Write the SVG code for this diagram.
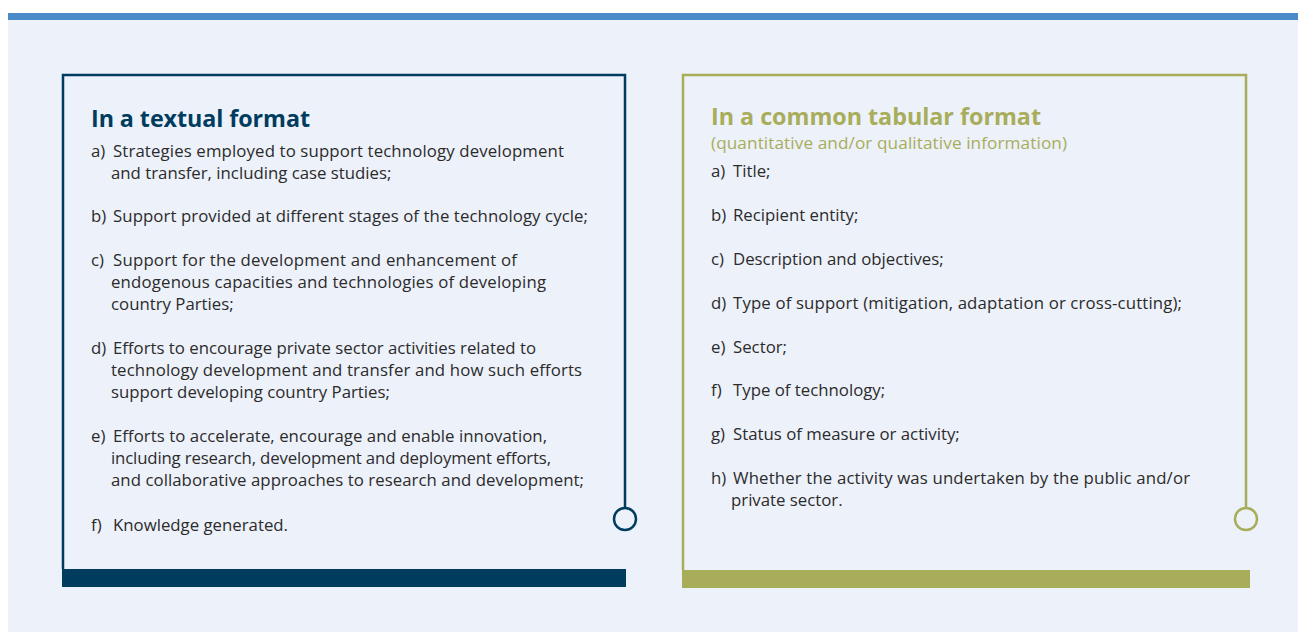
<svg xmlns="http://www.w3.org/2000/svg" width="1298" height="632" viewBox="0 0 1298 632">
<style>
.t{font-family:"Open Sans","Noto Sans",sans-serif;font-size:16.8px;fill:#2b2b2b;}
.h{font-family:"Open Sans","Noto Sans",sans-serif;font-size:23.3px;font-weight:bold;}
.s{font-family:"Open Sans","Noto Sans",sans-serif;font-size:17.2px;}
.navy{fill:#003c5e;}
.olive{fill:#a8ad5a;}
</style>
<rect x="0" y="0" width="1298" height="632" fill="#ffffff"/>
<rect x="8" y="20" width="1290" height="612" fill="#edf1fa"/>
<rect x="8" y="13" width="1290" height="7" fill="#4a8ac8"/>
<g id="textual">
<path d="M63 569 V75 H625 V508" fill="none" stroke="#003c5e" stroke-width="2.5"/>
<circle cx="625" cy="519" r="11" fill="none" stroke="#003c5e" stroke-width="2.5"/>
<rect x="62" y="569" width="564" height="18" class="navy"/>
<text x="91" y="127" class="h navy" textLength="219">In a textual format</text>
<text class="t"><tspan x="91" y="157">a)</tspan><tspan x="113" y="157" textLength="451">Strategies employed to support technology development</tspan><tspan x="111" y="179">and transfer, including case studies;</tspan></text>
<text class="t"><tspan x="91" y="222">b)</tspan><tspan x="113" y="222" textLength="475">Support provided at different stages of the technology cycle;</tspan></text>
<text class="t"><tspan x="91" y="266">c)</tspan><tspan x="113" y="266" textLength="404">Support for the development and enhancement of</tspan><tspan x="111" y="288" textLength="435">endogenous capacities and technologies of developing</tspan><tspan x="111" y="310">country Parties;</tspan></text>
<text class="t"><tspan x="91" y="354">d)</tspan><tspan x="113" y="354" textLength="423">Efforts to encourage private sector activities related to</tspan><tspan x="111" y="376" textLength="471">technology development and transfer and how such efforts</tspan><tspan x="111" y="398">support developing country Parties;</tspan></text>
<text class="t"><tspan x="91" y="442">e)</tspan><tspan x="113" y="442" textLength="434">Efforts to accelerate, encourage and enable innovation,</tspan><tspan x="111" y="464" textLength="440">including research, development and deployment efforts,</tspan><tspan x="111" y="486" textLength="473">and collaborative approaches to research and development;</tspan></text>
<text class="t"><tspan x="91" y="531">f)</tspan><tspan x="113" y="531">Knowledge generated.</tspan></text>
</g>
<g id="tabular">
<path d="M683 570 V75 H1246 V508" fill="none" stroke="#a8ad5a" stroke-width="2.5"/>
<circle cx="1246" cy="519" r="11" fill="none" stroke="#a8ad5a" stroke-width="2.5"/>
<rect x="682" y="570" width="568" height="18" class="olive"/>
<text x="711" y="125" class="h olive" textLength="330">In a common tabular format</text>
<text x="711" y="149" class="s olive" textLength="356">(quantitative and/or qualitative information)</text>
<text class="t"><tspan x="711" y="177">a)</tspan><tspan x="733" y="177">Title;</tspan></text>
<text class="t"><tspan x="711" y="221">b)</tspan><tspan x="733" y="221">Recipient entity;</tspan></text>
<text class="t"><tspan x="711" y="265">c)</tspan><tspan x="733" y="265">Description and objectives;</tspan></text>
<text class="t"><tspan x="711" y="309">d)</tspan><tspan x="733" y="309" textLength="449">Type of support (mitigation, adaptation or cross-cutting);</tspan></text>
<text class="t"><tspan x="711" y="353">e)</tspan><tspan x="733" y="353">Sector;</tspan></text>
<text class="t"><tspan x="711" y="396">f)</tspan><tspan x="733" y="396">Type of technology;</tspan></text>
<text class="t"><tspan x="711" y="440">g)</tspan><tspan x="733" y="440">Status of measure or activity;</tspan></text>
<text class="t"><tspan x="711" y="484">h)</tspan><tspan x="733" y="484" textLength="457">Whether the activity was undertaken by the public and/or</tspan><tspan x="731" y="506">private sector.</tspan></text>
</g>
</svg>
